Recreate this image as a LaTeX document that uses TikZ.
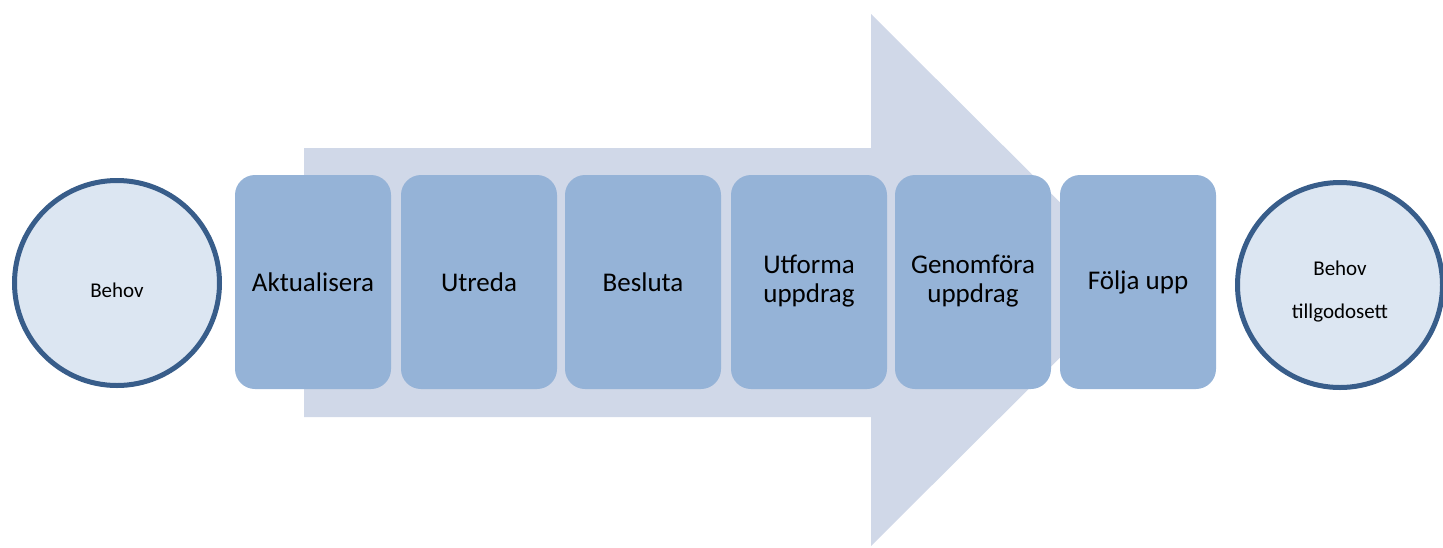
\documentclass[tikz,border=0pt]{standalone}
\usepackage{fontspec}
\setmainfont{Carlito}
\definecolor{arrowfill}{HTML}{D0D8E8}
\definecolor{boxfill}{HTML}{95B3D7}
\definecolor{circfill}{HTML}{DCE6F2}
\definecolor{circline}{HTML}{385D8A}
\newcommand{\twoln}[2]{\raisebox{-2pt}{\begin{tabular}{@{}c@{}}#1\\[-1pt]#2\end{tabular}}}
\tikzset{
  stepbox/.style={fill=boxfill, draw=none, rounded corners=20pt, minimum width=156pt, minimum height=214pt, inner sep=0pt, font=\fontsize{27}{30}\selectfont, align=center, text=black},
  endcirc/.style={circle, fill=circfill, draw=circline, line width=5pt, minimum size=205pt, inner sep=0pt},
  circtext/.style={inner sep=0pt, font=\fontsize{21}{43}\selectfont, align=center, text=black}
}
\begin{document}
\begin{tikzpicture}[x=1pt,y=-1pt]
\useasboundingbox (0,0) rectangle (1443,547);
% big background arrow
\fill[arrowfill] (304,148) -- (871,148) -- (871,14) -- (1138,280) -- (871,546) -- (871,417) -- (304,417) -- cycle;
% steps
\node[stepbox] (s1) at (313,282) {\raisebox{-2pt}{Aktualisera}};
\node[stepbox] (s2) at (479,282) {\raisebox{-2pt}{Utreda}};
\node[stepbox] (s3) at (643,282) {\raisebox{-2pt}{Besluta}};
\node[stepbox] (s4) at (809,282) {\twoln{Utforma}{uppdrag}};
\node[stepbox] (s5) at (973,282) {\twoln{Genomföra}{uppdrag}};
\node[stepbox] (s6) at (1138,282) {\raisebox{-2pt}{Följa upp}};
% circles
\node[endcirc] (c1) at (117,283) {};
\node[circtext] (t1) at (117,290) {Behov};
\node[endcirc] (c2) at (1340,285) {};
\node[circtext] (t2) at (1340,292) {Behov\\tillgodosett};
\end{tikzpicture}
\end{document}
